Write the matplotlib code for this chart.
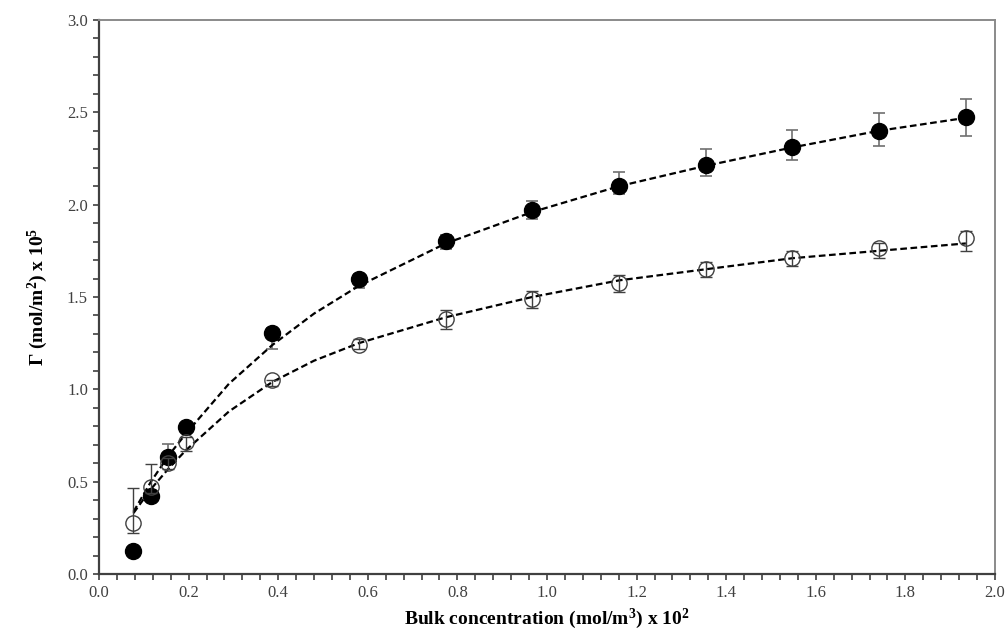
import matplotlib.pyplot as plt
from matplotlib.ticker import MultipleLocator

plt.rcParams['font.family'] = ['Liberation Serif', 'DejaVu Serif']
plt.rcParams['mathtext.fontset'] = 'custom'
plt.rcParams['mathtext.rm'] = 'Liberation Serif:bold'
plt.rcParams['mathtext.bf'] = 'Liberation Serif:bold'
plt.rcParams['mathtext.default'] = 'bf'

# Concentração (mol/m3) x 10^2
conc = [0.077, 0.116, 0.155, 0.194, 0.387, 0.580, 0.774, 0.967,
        1.161, 1.354, 1.548, 1.741, 1.935]

# Série 1 (símbolos cheios)
gamma_cheio = [0.126, 0.425, 0.632, 0.798, 1.303, 1.597, 1.805, 1.971,
               2.100, 2.214, 2.314, 2.400, 2.473]
err_cheio_inf = [0.0, 0.0, 0.03, 0.0, 0.086, 0.05, 0.047, 0.047,
                 0.045, 0.06, 0.07, 0.085, 0.10]
err_cheio_sup = [0.0, 0.0, 0.072, 0.0, 0.03, 0.03, 0.03, 0.05,
                 0.078, 0.09, 0.09, 0.094, 0.097]

# Série 2 (símbolos vazios)
gamma_vazio = [0.278, 0.469, 0.600, 0.716, 1.050, 1.240, 1.379, 1.487,
               1.574, 1.650, 1.710, 1.763, 1.817]
err_vazio_inf = [0.054, 0.03, 0.03, 0.048, 0.033, 0.02, 0.05, 0.045,
                 0.045, 0.04, 0.04, 0.05, 0.07]
err_vazio_sup = [0.189, 0.125, 0.03, 0.027, 0.0, 0.03, 0.05, 0.045,
                 0.045, 0.04, 0.04, 0.03, 0.04]

# Curvas ajustadas (valores lidos ao longo de cada curva)
conc_ajuste = [0.077, 0.116, 0.155, 0.194, 0.29, 0.387, 0.48, 0.580, 0.774,
               0.967, 1.161, 1.354, 1.548, 1.741, 1.935]
ajuste_cheio = [0.337, 0.50, 0.64, 0.76, 1.03, 1.24, 1.41, 1.56, 1.79,
                1.96, 2.10, 2.21, 2.31, 2.40, 2.47]
ajuste_vazio = [0.33, 0.46, 0.57, 0.67, 0.88, 1.04, 1.155, 1.25, 1.39,
                1.50, 1.59, 1.65, 1.71, 1.75, 1.79]

fig = plt.figure(figsize=(10.08, 6.30), dpi=100)
ax = fig.add_axes([0.0982, 0.0889, 0.8889, 0.8794])

cinza = '#707070'

ax.plot(conc_ajuste, ajuste_cheio, '--', color='black', lw=1.6, dashes=(3, 1.6), zorder=2)
ax.plot(conc_ajuste, ajuste_vazio, '--', color='black', lw=1.6, dashes=(3, 1.6), zorder=2)

# Barras de erro
ax.errorbar(conc, gamma_cheio, yerr=[err_cheio_inf, err_cheio_sup], fmt='none',
            ecolor=cinza, elinewidth=1.2, capsize=4, capthick=1.2, zorder=1)
ax.errorbar(conc, gamma_vazio, yerr=[err_vazio_inf, err_vazio_sup], fmt='none',
            ecolor='#404040', elinewidth=1.0, capsize=4, capthick=1.0, zorder=4)

# Pontos
ax.plot(conc, gamma_cheio, 'o', color='black', ms=11.5, zorder=3)
ax.plot(conc, gamma_vazio, 'o', mfc='none', mec='#404040', mew=1.0, ms=11, zorder=3)

ax.set_xlim(0, 2.0)
ax.set_ylim(0, 3.0)
ax.xaxis.set_major_locator(MultipleLocator(0.2))
ax.xaxis.set_minor_locator(MultipleLocator(0.04))
ax.yaxis.set_major_locator(MultipleLocator(0.5))
ax.yaxis.set_minor_locator(MultipleLocator(0.1))
ax.xaxis.set_major_formatter(lambda v, p: f'{v:.1f}')
ax.yaxis.set_major_formatter(lambda v, p: f'{v:.1f}')

ax.tick_params(which='both', direction='out', length=4, width=1.2,
               color='#404040', labelsize=12, labelcolor='#404040', pad=4)
ax.tick_params(top=False, right=False)

for lado in ['left', 'bottom']:
    ax.spines[lado].set_color('#404040')
    ax.spines[lado].set_linewidth(1.6)
for lado in ['top', 'right']:
    ax.spines[lado].set_color('#8a8a8a')
    ax.spines[lado].set_linewidth(1.4)

ax.set_xlabel('Bulk concentration (mol/m$^3$) x 10$^2$', fontsize=14,
              fontweight='bold', labelpad=4)
ax.set_ylabel('Γ (mol/m$^2$) x 10$^5$', fontsize=14, fontweight='bold', labelpad=12)

plt.savefig('out.png', dpi=100)
